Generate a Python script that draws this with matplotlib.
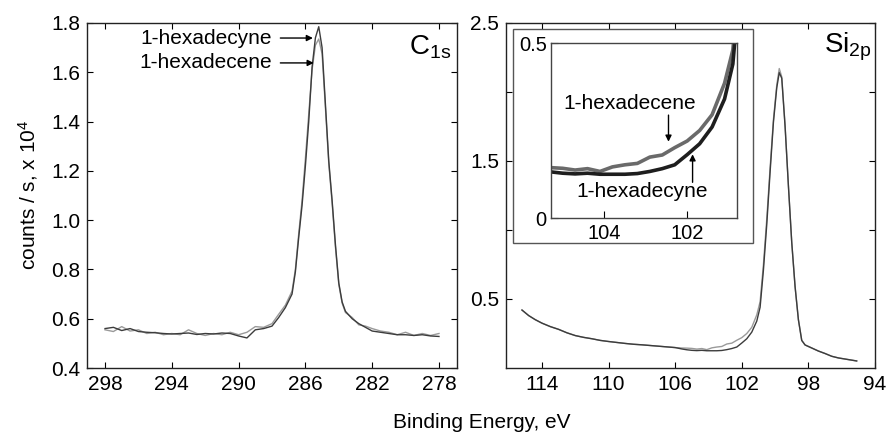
import matplotlib
matplotlib.use("Agg")
import matplotlib.pyplot as plt
from matplotlib.patches import Rectangle

plt.rcParams['font.family'] = ['Liberation Sans', 'DejaVu Sans']
plt.rcParams['mathtext.fontset'] = 'custom'
plt.rcParams['mathtext.rm'] = 'Liberation Sans'
plt.rcParams['mathtext.it'] = 'Liberation Sans'

# ---------------- C 1s data ----------------
c_energy = [298.0, 297.5, 297.0, 296.5, 296.0, 295.5, 295.0, 294.5, 294.0, 293.5,
            293.0, 292.5, 292.0, 291.5, 291.0, 290.5, 290.0, 289.5, 289.0, 288.5,
            288.0, 287.6, 287.2, 286.8, 286.6, 286.4, 286.2, 286.0, 285.8, 285.6,
            285.4, 285.2, 285.0, 284.8, 284.6, 284.4, 284.2, 284.0, 283.8, 283.6,
            283.2, 282.8, 282.4, 282.0, 281.5, 281.0, 280.5, 280.0, 279.5, 279.0,
            278.5, 278.0]
c_hexadecyne = [0.560, 0.565, 0.552, 0.560, 0.548, 0.545, 0.543, 0.540, 0.538, 0.540,
                0.542, 0.536, 0.540, 0.538, 0.542, 0.540, 0.530, 0.522, 0.555, 0.560,
                0.570, 0.605, 0.645, 0.700, 0.790, 0.930, 1.060, 1.220, 1.400, 1.620,
                1.740, 1.785, 1.700, 1.470, 1.240, 1.080, 0.900, 0.745, 0.668, 0.630,
                0.600, 0.580, 0.565, 0.550, 0.545, 0.540, 0.535, 0.535, 0.532, 0.535,
                0.530, 0.528]
c_hexadecene = [0.555, 0.548, 0.568, 0.550, 0.555, 0.540, 0.545, 0.535, 0.540, 0.535,
                0.555, 0.540, 0.532, 0.540, 0.535, 0.545, 0.535, 0.545, 0.568, 0.565,
                0.580, 0.618, 0.655, 0.712, 0.800, 0.945, 1.080, 1.250, 1.430, 1.610,
                1.710, 1.735, 1.675, 1.455, 1.230, 1.070, 0.890, 0.740, 0.663, 0.625,
                0.605, 0.575, 0.570, 0.560, 0.550, 0.545, 0.535, 0.545, 0.532, 0.540,
                0.532, 0.540]

# ---------------- Si 2p data ----------------
si_energy = [115.2, 114.8, 114.4, 114.0, 113.5, 113.0, 112.5, 112.0, 111.5, 111.0,
             110.5, 110.0, 109.5, 109.0, 108.5, 108.0, 107.5, 107.0, 106.5, 106.0,
             105.6, 105.3, 105.0, 104.7, 104.4, 104.1, 103.8, 103.5, 103.2, 102.9,
             102.6, 102.3, 102.0, 101.7, 101.4, 101.1, 100.9, 100.7, 100.5, 100.3,
             100.1, 99.9, 99.75, 99.6, 99.4, 99.2, 99.0, 98.8, 98.6, 98.4,
             98.2, 97.8, 97.4, 97.0, 96.6, 96.2, 95.8, 95.4, 95.1]
si_hexadecene = [0.420, 0.380, 0.350, 0.325, 0.300, 0.280, 0.255, 0.235, 0.222, 0.212,
                 0.200, 0.192, 0.185, 0.178, 0.172, 0.168, 0.163, 0.158, 0.153, 0.148,
                 0.145, 0.144, 0.142, 0.137, 0.141, 0.133, 0.146, 0.152, 0.156, 0.174,
                 0.180, 0.201, 0.220, 0.250, 0.295, 0.385, 0.480, 0.750, 1.080, 1.450,
                 1.800, 2.050, 2.170, 2.110, 1.760, 1.320, 0.910, 0.590, 0.350, 0.200,
                 0.167, 0.145, 0.123, 0.105, 0.085, 0.073, 0.065, 0.057, 0.051]
si_hexadecyne = [0.420, 0.380, 0.350, 0.325, 0.300, 0.280, 0.255, 0.235, 0.222, 0.212,
                 0.200, 0.192, 0.185, 0.178, 0.172, 0.168, 0.163, 0.158, 0.153, 0.148,
                 0.138, 0.132, 0.128, 0.126, 0.128, 0.125, 0.125, 0.125, 0.127, 0.133,
                 0.141, 0.152, 0.181, 0.212, 0.260, 0.340, 0.440, 0.710, 1.040, 1.420,
                 1.780, 2.030, 2.140, 2.100, 1.750, 1.320, 0.910, 0.590, 0.350, 0.200,
                 0.167, 0.145, 0.123, 0.105, 0.085, 0.073, 0.065, 0.057, 0.051]

c_xticks = [298, 294, 290, 286, 282, 278]
c_yticks = [0.4, 0.6, 0.8, 1.0, 1.2, 1.4, 1.6, 1.8]
si_xticks = [114, 110, 106, 102, 98, 94]
si_yticks = [0.5, 1.0, 1.5, 2.0, 2.5]
si_ylabels = ['0.5', '', '1.5', '', '2.5']
inset_xticks = [104, 102]
inset_yticks = [0, 0.5]

col_yne = '#3c3c3c'
col_ene = '#9a9a9a'

W, H = 887, 434
fig = plt.figure(figsize=(W / 100, H / 100), dpi=100)

def ax_rect(x0, y0, x1, y1):
    return [x0 / W, 1 - y1 / H, (x1 - x0) / W, (y1 - y0) / H]

def style(ax, fs=15):
    ax.tick_params(direction='in', top=True, right=True, length=4, width=0.8,
                   labelsize=fs, pad=5, colors='black')
    for s in ax.spines.values():
        s.set_color('#222222')
        s.set_linewidth(1.0)

arrow_kw = dict(arrowstyle='-|>', color='black', lw=1.0, mutation_scale=9,
                shrinkA=0, shrinkB=0)

# Left panel
ax1 = fig.add_axes(ax_rect(87, 23, 457, 368))
ax1.plot(c_energy, c_hexadecene, color=col_ene, lw=1.0)
ax1.plot(c_energy, c_hexadecyne, color=col_yne, lw=1.0)
ax1.set_xlim(299.08, 276.92)
ax1.set_ylim(0.4, 1.8)
ax1.set_xticks(c_xticks)
ax1.set_yticks(c_yticks)
ax1.set_yticklabels([f'{v:.1f}' for v in c_yticks])
style(ax1)
ax1.text(0.985, 0.93, r'$\mathrm{C}_{\mathrm{1s}}$', transform=ax1.transAxes,
         ha='right', va='center', fontsize=20)
ax1.text(288.0, 1.739, '1-hexadecyne', ha='right', va='center', fontsize=15)
ax1.annotate('', xy=(285.55, 1.739), xytext=(287.5, 1.739), arrowprops=arrow_kw)
ax1.text(288.0, 1.638, '1-hexadecene', ha='right', va='center', fontsize=15)
ax1.annotate('', xy=(285.5, 1.638), xytext=(287.5, 1.638), arrowprops=arrow_kw)

# Right panel
ax2 = fig.add_axes(ax_rect(506, 23, 875, 368))
ax2.plot(si_energy, si_hexadecene, color=col_ene, lw=1.0)
ax2.plot(si_energy, si_hexadecyne, color=col_yne, lw=1.0)
ax2.set_xlim(116.16, 94.0)
ax2.set_ylim(0, 2.5)
ax2.set_xticks(si_xticks)
ax2.set_yticks(si_yticks)
ax2.set_yticklabels(si_ylabels)
style(ax2)
ax2.text(0.99, 0.93, r'$\mathrm{Si}_{\mathrm{2p}}$', transform=ax2.transAxes,
         ha='right', va='center', fontsize=20)

# Inset frame
frame = Rectangle((513 / W, 1 - 243 / H), 240 / W, 214 / H, transform=fig.transFigure,
                  facecolor='white', edgecolor='#555555', lw=1.0, zorder=5)
fig.patches.append(frame)

ax3 = fig.add_axes(ax_rect(551, 43, 737, 218), zorder=6)
ax3.plot(si_energy, si_hexadecene, color='#6a6a6a', lw=2.6)
ax3.plot(si_energy, si_hexadecyne, color='#1e1e1e', lw=2.6)
ax3.set_xlim(105.28, 100.8)
ax3.set_ylim(0, 0.5)
ax3.set_xticks(inset_xticks)
ax3.set_yticks(inset_yticks)
ax3.set_yticklabels(['0', '0.5'])
ax3.tick_params(direction='in', length=5, width=0.8, labelsize=14.5, pad=4, colors='black')
ax3.tick_params(axis='y', pad=3)
for s in ax3.spines.values():
    s.set_color('#444444')
    s.set_linewidth(1.0)
ax3.text(103.38, 0.326, '1-hexadecene', ha='center', va='center', fontsize=15)
ax3.annotate('', xy=(102.45, 0.218), xytext=(102.45, 0.294), arrowprops=arrow_kw)
ax3.text(103.08, 0.075, '1-hexadecyne', ha='center', va='center', fontsize=15)
ax3.annotate('', xy=(101.87, 0.182), xytext=(101.87, 0.102), arrowprops=arrow_kw)

fig.text(482 / W, 1 - 423 / H, 'Binding Energy, eV', ha='center', va='center', fontsize=15)
fig.text(28 / W, 1 - 195 / H, r'counts / s, x 10$^4$', ha='center', va='center',
         rotation=90, fontsize=15)

fig.savefig('out.png', dpi=100)
